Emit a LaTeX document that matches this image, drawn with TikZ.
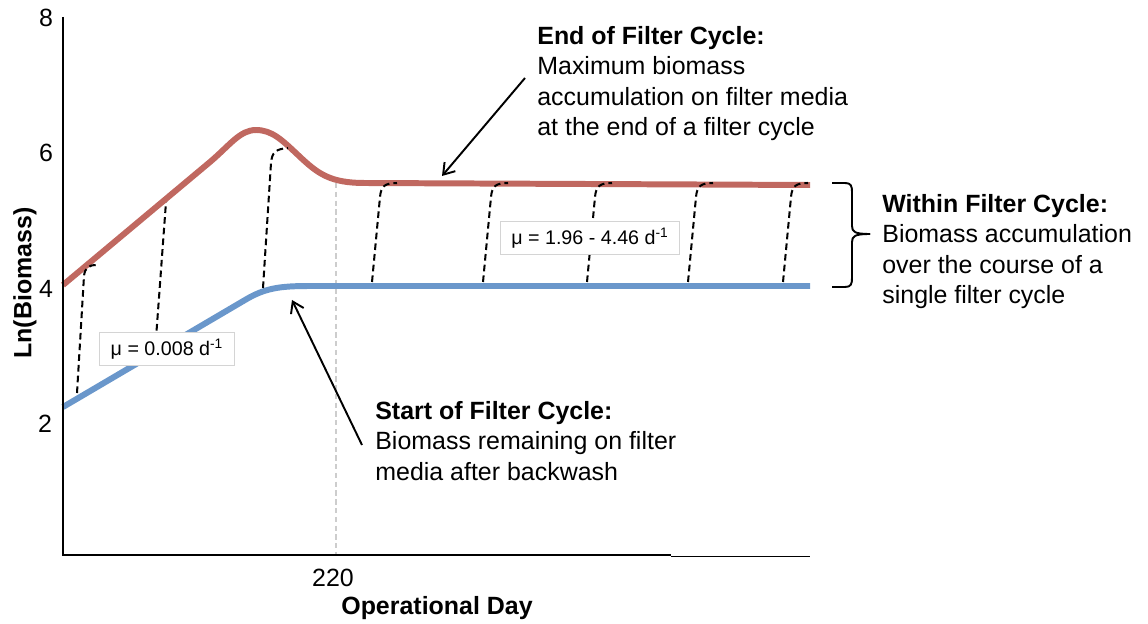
\documentclass[tikz,border=0pt]{standalone}
\usepackage{fontspec}
\setmainfont{Liberation Sans}
\usetikzlibrary{arrows.meta}
\definecolor{redc}{RGB}{192,104,96}
\definecolor{bluec}{RGB}{106,151,203}
\definecolor{boxgray}{RGB}{212,212,212}
\definecolor{guidegray}{RGB}{205,205,205}
\begin{document}
\begin{tikzpicture}[x=0.02cm,y=-0.02cm,
  lbl/.style={font=\fontsize{14.2}{17.3}\selectfont, inner sep=0pt},
  ann/.style={font=\fontsize{14.2}{17.3}\selectfont, align=left, anchor=north west, inner sep=0pt},
  mubox/.style={draw=boxgray, fill=white, line width=0.6pt, font=\fontsize{11.2}{13}\selectfont, inner xsep=6.3pt, inner ysep=0pt, minimum height=19.3pt},
  growth/.style={black, line width=1.15pt, dash pattern=on 3.8pt off 2.3pt},
  curve/.style={line width=3.4pt},
  axisline/.style={black, line width=1.1pt},
  pointer/.style={black, line width=1.1pt, -{Straight Barb[length=6pt,width=8pt]}},
  bracestyle/.style={black, line width=1.1pt}
]
\useasboundingbox (0,0) rectangle (1148,624);

% guide line at day 220
\coordinate (g1) at (336,183);
\coordinate (g2) at (336,554);
\draw[guidegray, line width=0.6pt, dash pattern=on 3pt off 2pt] (g1) -- (g2);

% growth curve hidden partly under the red line
\draw[growth] (155,352) -- (166,202) .. controls (167,196) and (170,193) .. (176,189);

% start of cycle curve (blue)
\draw[curve, bluec] (63,407) -- (245,300) .. controls (265,288) and (280,286) .. (310,286) -- (810,286);
% end of cycle curve (red)
\draw[curve, redc] (63,285) -- (210,162) .. controls (230,145) and (240,130) .. (256,130)
  .. controls (272,130) and (282,140) .. (298,155) .. controls (318,174) and (330,183) .. (365,183) -- (810,185);

% growth within cycles
\draw[growth] (77,393) -- (84,276) .. controls (85,268) and (88,265) .. (97,265);
\draw[growth] (263,288) -- (271,163) .. controls (272,152) and (276,149) .. (288,148);
\foreach \xo in {372,483,587,688,783}{
  \draw[growth] (\xo,282) -- ({\xo+8},197) .. controls ({\xo+9},186) and ({\xo+13},183) .. ({\xo+25},183);
}

% rate boxes
\node[mubox] (mu1) at (167,349) {μ = 0.008 d\textsuperscript{-1}};
\node[mubox] (mu2) at (590,238) {μ = 1.96 - 4.46 d\textsuperscript{-1}};

% axes
\coordinate (ytop) at (63,17);
\coordinate (orig) at (63,555);
\coordinate (xmid) at (671,555);
\coordinate (xmid2) at (671,556.5);
\coordinate (xend) at (810,556.5);
\draw[axisline] (ytop) -- (orig) -- (xmid);
\draw[axisline] (xmid2) -- (xend);

% tick labels
\node[lbl] (t8) at (46,18) {8};
\node[lbl] (t6) at (46,153) {6};
\node[lbl] (t4) at (46,289) {4};
\node[lbl] (t2) at (45,424) {2};
\node[lbl] (t220) at (333,578) {220};
\node[lbl, font=\fontsize{14.2}{17.3}\selectfont\bfseries] (xlab) at (437,608) {Operational Day};
\node[lbl, font=\fontsize{14.2}{17.3}\selectfont\bfseries, rotate=90] (ylab) at (25,283) {Ln(Biomass)};

% annotations
\node[ann] (endtxt) at (537,26) {\textbf{End of Filter Cycle:}\\Maximum biomass\\accumulation on filter media\\at the end of a filter cycle};
\node[ann] (starttxt) at (375,401) {\textbf{Start of Filter Cycle:}\\Biomass remaining on filter\\media after backwash};
\node[ann] (withintxt) at (882,194) {\textbf{Within Filter Cycle:}\\Biomass accumulation\\over the course of a\\single filter cycle};

% pointers
\coordinate (endtail) at (525,78);
\coordinate (endtip) at (442,176);
\draw[pointer] (endtail) -- (endtip);
\coordinate (starttail) at (362,445);
\coordinate (starttip) at (292,300);
\draw[pointer] (starttail) -- (starttip);

% brace
\coordinate (btop) at (832,183);
\coordinate (bbot) at (832,287);
\coordinate (btip) at (870,234);
\draw[bracestyle] (btop) -- (845,183) .. controls (851,183) and (852,186) .. (852,192) -- (852,226)
  .. controls (852,232) and (855,234) .. (btip);
\draw[bracestyle] (bbot) -- (845,287) .. controls (851,287) and (852,284) .. (852,278) -- (852,242)
  .. controls (852,236) and (855,234) .. (btip);
\end{tikzpicture}
\end{document}
